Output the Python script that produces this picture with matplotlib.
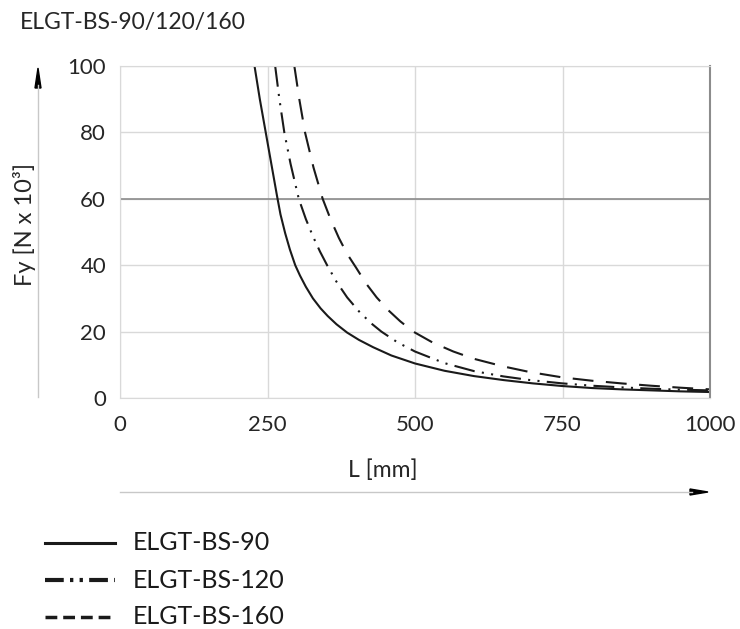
import numpy as np
import matplotlib.pyplot as plt
from matplotlib.lines import Line2D

plt.rcParams['font.family'] = ['Lato', 'DejaVu Sans']

# L [mm] -> Fy [N x 10^3]
L_90 = [228, 237, 247, 257, 266, 272, 280, 288, 297, 305, 315, 327, 340, 352, 367, 385, 405, 429, 460,
        500, 550, 600, 650, 700, 750, 800, 850, 900, 950, 1000]
F_90 = [100, 90, 80, 70, 61, 55.3, 49.6, 44.7, 40, 36.9, 33.5, 30, 27, 24.7, 22.2, 19.7, 17.5, 15.3, 12.8,
        10.4, 8.2, 6.6, 5.4, 4.4, 3.6, 3.0, 2.6, 2.3, 2.0, 1.8]

L_120 = [263, 270, 278.5, 289, 303, 315, 327, 339, 351, 367, 385, 405, 425, 443, 470,
         500, 550, 600, 650, 695, 750, 800, 850, 900, 950, 1000]
F_120 = [100, 90.2, 80, 70.6, 60, 53.9, 48.7, 44.1, 40, 35, 30.3, 26.1, 22.6, 20, 16.8,
         14, 10.5, 8.1, 6.5, 5.4, 4.4, 3.7, 3.2, 2.8, 2.5, 2.3]

L_160 = [295.5, 304, 313.6, 328, 343.5, 357, 371, 385, 400, 417, 435, 455, 475, 497, 530, 565,
         600, 650, 695, 750, 800, 850, 900, 950, 1000]
F_160 = [100, 89.9, 80, 69.4, 60, 53.8, 48.2, 43.4, 39.3, 34.5, 30.3, 26.4, 23.1, 20, 16.7, 14,
         11.8, 9.5, 7.8, 6.2, 5.2, 4.4, 3.7, 3.1, 2.6]

names = ['ELGT-BS-90', 'ELGT-BS-120', 'ELGT-BS-160']
xticks = [0, 250, 500, 750, 1000]
yticks = [0, 20, 40, 60, 80, 100]

ink = '#1a1a1a'
txt = '#262626'
grid_c = '#d9d9d9'

fig = plt.figure(figsize=(7.4, 6.29), dpi=100)
ax = fig.add_axes([120 / 740, 1 - 398 / 629, 590 / 740, 332 / 629])

ax.plot(L_90, F_90, color=ink, lw=1.5, ls='-')
ax.plot(L_120, F_120, color=ink, lw=1.5, ls=(0, (10, 3.5, 1, 3.5, 1, 3.5)))
ax.plot(L_160, F_160, color=ink, lw=1.5, ls=(0, (10, 6)))

ax.set_xlim(0, 1000)
ax.set_ylim(0, 100)
ax.set_xticks(xticks)
ax.set_yticks(yticks)
ax.grid(True, color=grid_c, lw=1)
ax.axhline(60, color='#8c8c8c', lw=1.2, zorder=1)
ax.set_axisbelow(True)
for s in ['left', 'top', 'bottom']:
    ax.spines[s].set_color(grid_c)
ax.spines['right'].set_color('#8c8c8c')
ax.spines['right'].set_linewidth(1.5)
ax.tick_params(length=0, labelsize=16, colors=txt)
ax.tick_params(axis='x', pad=12)
ax.tick_params(axis='y', pad=10)

fig.text(20 / 740, 1 - 22 / 629, 'ELGT-BS-90/120/160', fontsize=16.5, color=txt, va='center', ha='left')

# y axis arrow and label
fig.add_artist(Line2D([38 / 740, 38 / 740], [1 - 397 / 629, 1 - 85 / 629], color='#c8c8c8', lw=1))
fig.add_artist(plt.Polygon([[35 / 740, 1 - 88 / 629], [41 / 740, 1 - 88 / 629], [38 / 740, 1 - 68 / 629]], color='black'))
fig.text(25 / 740, 1 - 224 / 629, 'Fy [N x 10³]', fontsize=17, color=txt, rotation=90, va='center', ha='center')

# x axis arrow and label
fig.add_artist(Line2D([120 / 740, 692 / 740], [1 - 492 / 629, 1 - 492 / 629], color='#c8c8c8', lw=1))
fig.add_artist(plt.Polygon([[690 / 740, 1 - 489 / 629], [690 / 740, 1 - 495 / 629], [708 / 740, 1 - 492 / 629]], color='black'))
fig.text(383 / 740, 1 - 470 / 629, 'L [mm]', fontsize=16.5, color=txt, va='center', ha='center')

# legend
styles = ['-', (0, (4.5, 1.5, 0.8, 1.5, 0.8, 1.5)), (0, (3.4, 1.7))]
widths = [2.2, 3, 2.5]
rows = [543, 580, 617]
for name, st, w, yy in zip(names, styles, widths, rows):
    fig.add_artist(Line2D([45 / 740, 115 / 740], [1 - yy / 629, 1 - yy / 629], color=ink, lw=w, ls=st))
    fig.text(133 / 740, 1 - yy / 629, name, fontsize=18, color='#1a1a1a', va='center', ha='left')

fig.savefig('out.png', dpi=100)
